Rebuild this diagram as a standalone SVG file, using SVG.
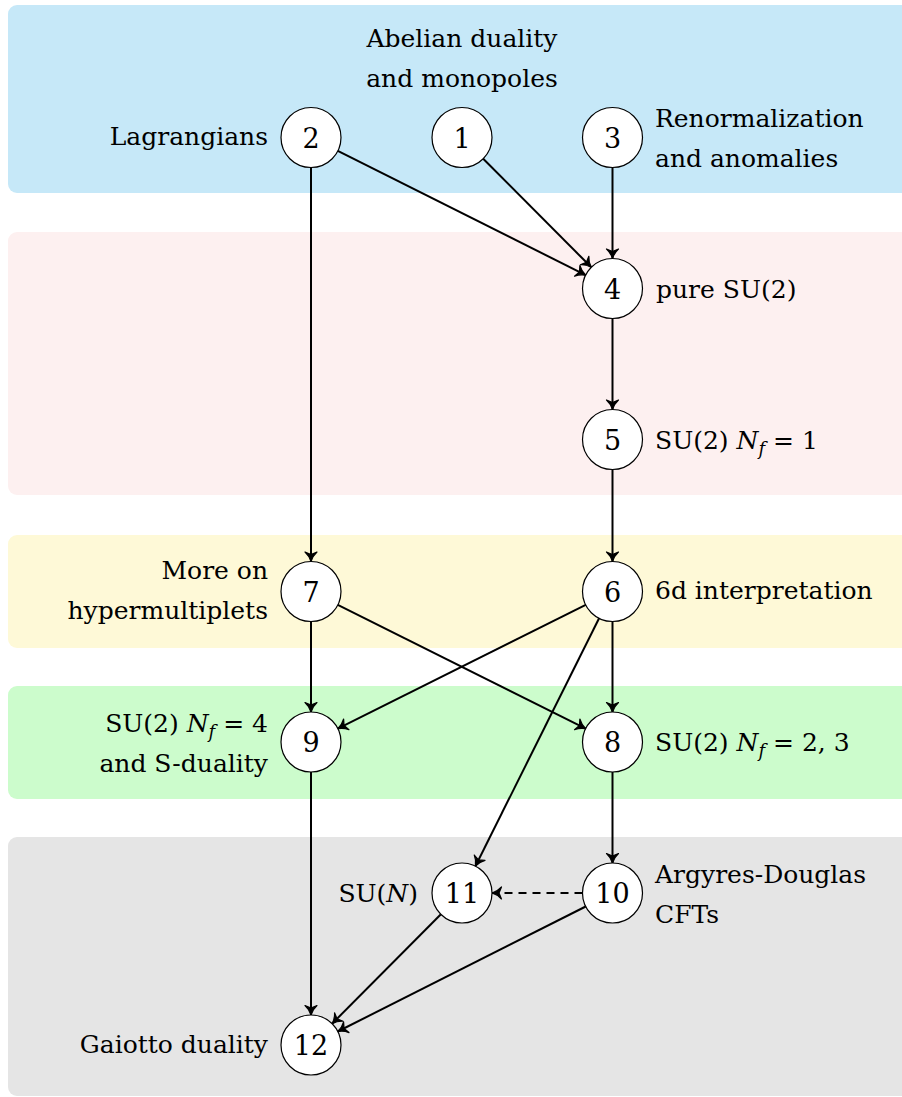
<svg xmlns="http://www.w3.org/2000/svg" width="902" height="1097" viewBox="0 0 902 1097">
<style>
text{font-family:"DejaVu Serif",serif;font-size:25px;fill:#000}
.num{text-anchor:middle;font-size:27px}
.end{text-anchor:end}
.mid{text-anchor:middle}
.it{font-style:italic}
.sub{font-size:18px;font-style:italic}
circle{fill:#fff;stroke:#000;stroke-width:1.2}
.e{stroke:#000;stroke-width:2;fill:none;marker-end:url(#arr)}
.d{stroke-dasharray:8,6}
</style>
<defs>
<marker id="arr" markerUnits="userSpaceOnUse" viewBox="-12 -8 14 16" markerWidth="14" markerHeight="16" refX="0" refY="0" orient="auto">
<path d="M-9.5,-6 C-6.5,-2.6 -2.6,-0.8 0,0 C-2.6,0.8 -6.5,2.6 -9.5,6 L-7,0 Z" fill="#000" stroke="#000" stroke-width="1.2" stroke-linejoin="round"/>
</marker>
</defs>
<g id="bands">
<rect x="8" y="5" width="910" height="188" rx="9" fill="#c6e8f8"/>
<rect x="8" y="232" width="910" height="263" rx="9" fill="#fdf0f0"/>
<rect x="8" y="535" width="910" height="113" rx="9" fill="#fef9d7"/>
<rect x="8" y="686" width="910" height="113" rx="9" fill="#ccfccc"/>
<rect x="8" y="837" width="910" height="259" rx="9" fill="#e5e5e5"/>
</g>
<g id="connectors">
<line class="e" x1="337.8" y1="150.9" x2="585.7" y2="275.1"/>
<line class="e" x1="483.2" y1="158.7" x2="591.3" y2="267.3"/>
<line class="e" x1="612.5" y1="167.5" x2="612.5" y2="258.5"/>
<line class="e" x1="612.5" y1="318.5" x2="612.5" y2="409.5"/>
<line class="e" x1="612.5" y1="469.5" x2="612.5" y2="561.5"/>
<line class="e" x1="311" y1="167.5" x2="311" y2="561.5"/>
<line class="e" x1="311" y1="621.5" x2="311" y2="712"/>
<line class="e" x1="612.5" y1="621.5" x2="612.5" y2="712"/>
<line class="e" x1="337.8" y1="604.9" x2="585.7" y2="728.6"/>
<line class="e" x1="585.7" y1="604.9" x2="337.8" y2="728.6"/>
<line class="e" x1="599.1" y1="618.3" x2="475.4" y2="866.2"/>
<line class="e" x1="311" y1="772" x2="311" y2="1015"/>
<line class="e" x1="612.5" y1="772" x2="612.5" y2="863"/>
<line class="e d" x1="582.5" y1="893" x2="492" y2="893"/>
<line class="e" x1="440.9" y1="914.3" x2="332.1" y2="1023.7"/>
<line class="e" x1="585.7" y1="906.5" x2="337.8" y2="1031.5"/>
</g>
<g id="n1"><circle cx="462" cy="137.5" r="30"/><text class="num" x="462" y="147.5">1</text>
<text class="mid" x="462" y="47">Abelian duality</text><text class="mid" x="462" y="87">and monopoles</text></g>
<g id="n2"><circle cx="311" cy="137.5" r="30"/><text class="num" x="311" y="147.5">2</text>
<text class="end" x="268" y="145">Lagrangians</text></g>
<g id="n3"><circle cx="612.5" cy="137.5" r="30"/><text class="num" x="612.5" y="147.5">3</text>
<text x="655" y="127">Renormalization</text><text x="655" y="167">and anomalies</text></g>
<g id="n4"><circle cx="612.5" cy="288.5" r="30"/><text class="num" x="612.5" y="298.5">4</text>
<text x="656" y="298">pure SU(2)</text></g>
<g id="n5"><circle cx="612.5" cy="439.5" r="30"/><text class="num" x="612.5" y="449.5">5</text>
<text x="655" y="449">SU(2) <tspan class="it">N</tspan><tspan class="sub" dy="6">f</tspan><tspan dy="-6"> = 1</tspan></text></g>
<g id="n6"><circle cx="612.5" cy="591.5" r="30"/><text class="num" x="612.5" y="601.5">6</text>
<text x="655" y="599">6d interpretation</text></g>
<g id="n7"><circle cx="311" cy="591.5" r="30"/><text class="num" x="311" y="601.5">7</text>
<text class="end" x="268" y="579">More on</text><text class="end" x="268" y="619">hypermultiplets</text></g>
<g id="n8"><circle cx="612.5" cy="742" r="30"/><text class="num" x="612.5" y="752">8</text>
<text x="655" y="751">SU(2) <tspan class="it">N</tspan><tspan class="sub" dy="6">f</tspan><tspan dy="-6"> = 2, 3</tspan></text></g>
<g id="n9"><circle cx="311" cy="742" r="30"/><text class="num" x="311" y="752">9</text>
<text class="end" x="268" y="732">SU(2) <tspan class="it">N</tspan><tspan class="sub" dy="6">f</tspan><tspan dy="-6"> = 4</tspan></text><text class="end" x="268" y="772">and S-duality</text></g>
<g id="n10"><circle cx="612.5" cy="893" r="30"/><text class="num" x="612.5" y="903">10</text>
<text x="655" y="883">Argyres-Douglas</text><text x="655" y="923">CFTs</text></g>
<g id="n11"><circle cx="462" cy="893" r="30"/><text class="num" x="462" y="903">11</text>
<text class="end" x="418" y="902">SU(<tspan class="it">N</tspan>)</text></g>
<g id="n12"><circle cx="311" cy="1045" r="30"/><text class="num" x="311" y="1055">12</text>
<text class="end" x="268" y="1053">Gaiotto duality</text></g>
</svg>
